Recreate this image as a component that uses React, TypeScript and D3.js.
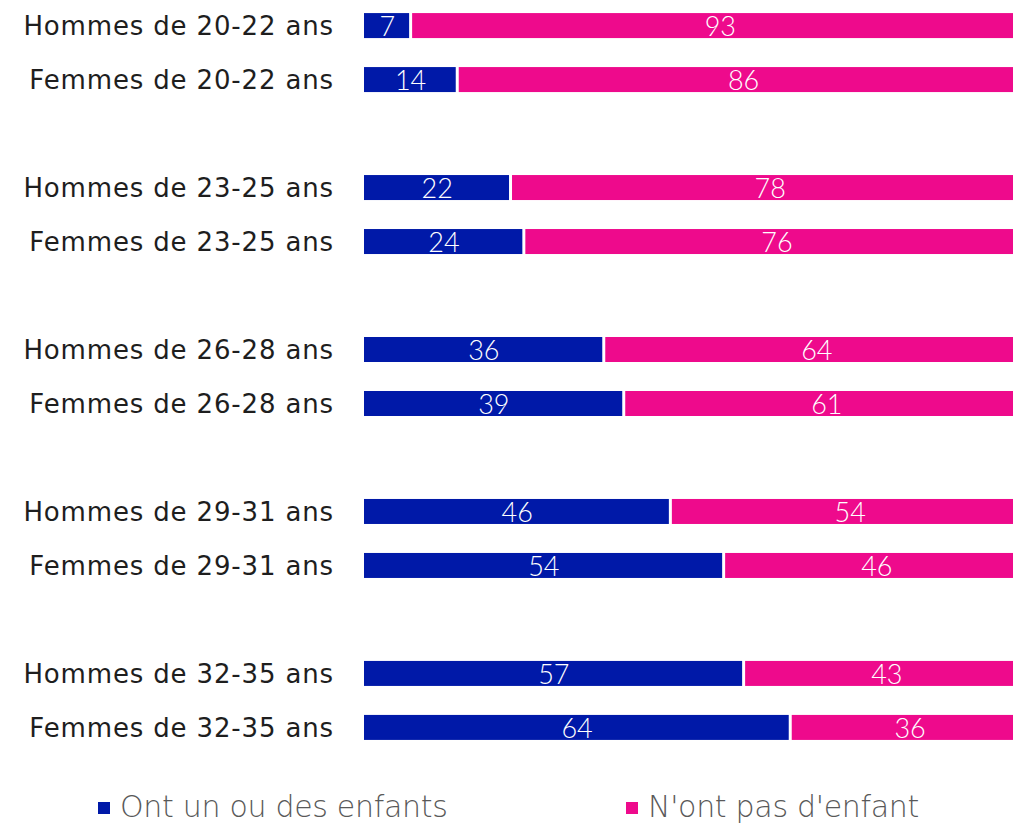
import React from "react";
import * as d3 from "d3";

const categories = [
  "Hommes de 20-22 ans",
  "Femmes de 20-22 ans",
  "Hommes de 23-25 ans",
  "Femmes de 23-25 ans",
  "Hommes de 26-28 ans",
  "Femmes de 26-28 ans",
  "Hommes de 29-31 ans",
  "Femmes de 29-31 ans",
  "Hommes de 32-35 ans",
  "Femmes de 32-35 ans",
];
const slots = [0, 1, 3, 4, 6, 7, 9, 10, 12, 13];
const withChildren = [7, 14, 22, 24, 36, 39, 46, 54, 57, 64];
const withoutChildren = [93, 86, 78, 76, 64, 61, 54, 46, 43, 36];
const seriesNames = ["Ont un ou des enfants", "N'ont pas d'enfant"];
const colors = ["#0019A8", "#EE0A8C"];

const W = 1013;
const H = 825;
const LABEL_FONT = "'DejaVu Sans', sans-serif";
const VALUE_FONT = "Lato, 'DejaVu Sans', sans-serif";

export default function App() {
  const x = d3.scaleLinear().domain([0, 100]).range([364, 1030]);
  const y = d3
    .scaleBand<number>()
    .domain(d3.range(14))
    .range([-1.5, 754.5])
    .paddingInner(0.537)
    .paddingOuter(0.27);
  const bh = y.bandwidth();
  const gap = 1.5;
  const legendX = d3.scalePoint<string>().domain(seriesNames).range([98, 626]);

  return (
    <svg
      width={W}
      height={H}
      style={{ position: "absolute", left: 0, top: 0, background: "#fff" }}
    >
      {categories.map((c, i) => {
        const yy = y(slots[i]) as number;
        const a = withChildren[i];
        const b = withoutChildren[i];
        const xa = x(a);
        return (
          <g key={c}>
            <text
              x={334}
              y={yy + bh / 2}
              dy="0.36em"
              textAnchor="end"
              fontFamily={LABEL_FONT}
              fontSize={26}
              letterSpacing={0.85}
              fill="#1e1e1e"
            >
              {c}
            </text>
            <rect x={x(0)} y={yy} width={xa - gap - x(0)} height={bh} fill={colors[0]} />
            <rect x={xa + gap} y={yy} width={x(a + b) - xa - gap} height={bh} fill={colors[1]} />
            <text
              x={(x(0) + xa) / 2}
              y={yy + bh / 2}
              dy="0.38em"
              textAnchor="middle"
              fontFamily={VALUE_FONT}
              fontWeight={300}
              fontSize={27}
              fill="#fff"
            >
              {a}
            </text>
            <text
              x={(xa + x(a + b)) / 2}
              y={yy + bh / 2}
              dy="0.38em"
              textAnchor="middle"
              fontFamily={VALUE_FONT}
              fontWeight={300}
              fontSize={27}
              fill="#fff"
            >
              {b}
            </text>
          </g>
        );
      })}
      {seriesNames.map((s, i) => {
        const lx = legendX(s) as number;
        return (
          <g key={s}>
            <rect x={lx} y={802} width={12} height={12} fill={colors[i]} />
            <text
              x={lx + 22}
              y={817}
              fontFamily={LABEL_FONT}
              fontWeight={200}
              fontSize={30}
              letterSpacing={-0.3}
              fill="#595959"
            >
              {s}
            </text>
          </g>
        );
      })}
    </svg>
  );
}
